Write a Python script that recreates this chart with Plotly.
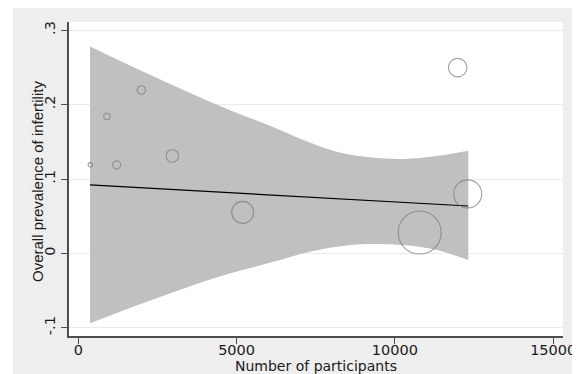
import plotly.graph_objects as go

# Studies (bubble plot)
participants = [380, 906, 1212, 1990, 2970, 5192, 11984, 12300, 10783]
prevalence = [0.119, 0.184, 0.119, 0.2196, 0.131, 0.0552, 0.2497, 0.080, 0.028]
study_weight = [4.5, 6.5, 8, 8.5, 12.5, 22, 18.5, 28, 43]

# Fitted meta-regression line
fit_x = [370, 12319]
fit_y = [0.092, 0.0637]

# Confidence band
band_x = [370, 2160, 4264, 6371, 7107, 8162, 9214, 10266, 11321, 12319]
band_upper = [0.278, 0.242, 0.2018, 0.166, 0.1525, 0.1367, 0.1292, 0.1269, 0.1309, 0.138]
band_lower = [-0.094, -0.065, -0.0336, -0.009, 0.0001, 0.009, 0.0126, 0.0112, 0.0045, -0.009]

x_ticks = [0, 5000, 10000, 15000]
x_ticktext = ["0", "5000", "10000", "15000"]
y_ticks = [-0.1, 0, 0.1, 0.2, 0.3]
y_ticktext = ["-.1", "0", ".1", ".2", ".3"]

fig = go.Figure()
fig.add_trace(go.Scatter(x=band_x, y=band_lower, mode="lines",
                         line=dict(width=0, shape="spline", color="#c0c0c0"),
                         hoverinfo="skip", showlegend=False))
fig.add_trace(go.Scatter(x=band_x, y=band_upper, mode="lines", fill="tonexty",
                         fillcolor="#c0c0c0",
                         line=dict(width=0, shape="spline", color="#c0c0c0"),
                         hoverinfo="skip", showlegend=False))
fig.add_trace(go.Scatter(x=fit_x, y=fit_y, mode="lines",
                         line=dict(color="black", width=1.2), showlegend=False))
fig.add_trace(go.Scatter(x=participants, y=prevalence, mode="markers",
                         marker=dict(size=study_weight, sizemode="diameter",
                                     color="rgba(0,0,0,0)",
                                     line=dict(color="#7a7a7a", width=1.1)),
                         showlegend=False))

tickfont = dict(family="DejaVu Sans", size=14.5, color="#1a1a1a")

fig.update_layout(
    width=572, height=366,
    margin=dict(l=61, r=17, t=14, b=38),
    paper_bgcolor="#eeeeee",
    plot_bgcolor="white",
    xaxis=dict(range=[-294, 15310], tickvals=x_ticks, ticktext=x_ticktext,
               ticks="outside", ticklen=6, automargin=False, ticklabelstandoff=-6,
               tickcolor="#4d4d4d", showline=True, linecolor="#4d4d4d", linewidth=1.5,
               showgrid=False, zeroline=False, tickfont=tickfont),
    yaxis=dict(range=[-0.111, 0.311], tickvals=y_ticks, ticktext=y_ticktext,
               tickangle=-90, ticks="outside", ticklen=6, automargin=False,
               tickcolor="#4d4d4d",
               showline=True, linecolor="#4d4d4d", linewidth=1.5,
               showgrid=True, gridcolor="#ebebeb", gridwidth=1,
               zeroline=False, tickfont=tickfont),
    shapes=[
        dict(type="rect", xref="paper", yref="paper", x0=-0.2, x1=-0.1134,
             y0=-0.3, y1=1.3, fillcolor="white", line=dict(width=0), layer="below"),
    ],
    annotations=[
        dict(text="Number of participants", xref="paper", yref="paper",
             x=0.499, y=-0.0955, xanchor="center", yanchor="middle", showarrow=False,
             font=dict(family="DejaVu Sans", size=14, color="#1a1a1a")),
        dict(text="Overall prevalence of infertility", xref="paper", yref="paper",
             x=-0.0648, y=0.4936, xanchor="center", yanchor="middle", showarrow=False,
             textangle=-90,
             font=dict(family="Liberation Sans", size=15, color="#1a1a1a")),
    ],
)

fig.write_html("out.html")
